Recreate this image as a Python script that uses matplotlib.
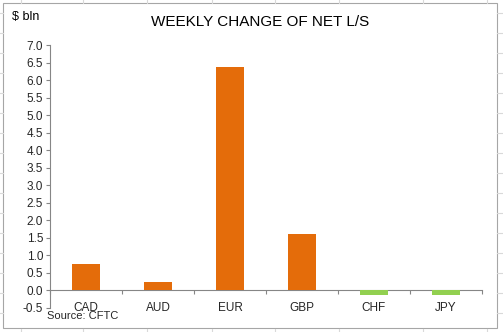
import matplotlib
matplotlib.use("Agg")
import matplotlib.pyplot as plt
from matplotlib.patches import Rectangle
from matplotlib.lines import Line2D

categories = ["CAD", "AUD", "EUR", "GBP", "CHF", "JPY"]
values = [0.75, 0.23, 6.37, 1.60, -0.14, -0.14]
yticks = [-0.5, 0.0, 0.5, 1.0, 1.5, 2.0, 2.5, 3.0, 3.5, 4.0, 4.5, 5.0, 5.5, 6.0, 6.5, 7.0]
title = "WEEKLY CHANGE OF NET L/S"
unit_label = "$ bln"
source = "Source: CFTC"

ORANGE = "#E46C0A"
GREEN = "#92D050"
AXIS = "#868686"

plt.rcParams['font.family'] = ['Liberation Sans', 'DejaVu Sans']

W, H = 503, 332
fig = plt.figure(figsize=(W / 100, H / 100), dpi=100)
fig.patch.set_facecolor("white")

# spreadsheet background gridlines (decorative)
for x in [21, 83, 147, 212, 275, 339, 423, 487]:
    fig.add_artist(Line2D([x / W, x / W], [0, 3 / H], color="#D9D9D9", lw=0.8))
    fig.add_artist(Line2D([x / W, x / W], [1 - 3 / H, 1], color="#D9D9D9", lw=0.8))
for y in range(13, 332, 20):
    fig.add_artist(Line2D([0, 3 / W], [1 - y / H, 1 - y / H], color="#D9D9D9", lw=0.8))
    fig.add_artist(Line2D([1 - 6 / W, 1], [1 - y / H, 1 - y / H], color="#D9D9D9", lw=0.8))

# chart border
fig.add_artist(Rectangle((3 / W, 1 - 328 / H), 494 / W, 325 / H, transform=fig.transFigure,
                         fill=True, facecolor="white", edgecolor="#A6A6A6", lw=0.8, zorder=0))

ax = fig.add_axes([50 / W, 1 - 308 / H, 432 / W, 263 / H])
ax.set_facecolor("none")

n = len(categories)
xs = [i + 0.5 for i in range(n)]
colors = [ORANGE if v >= 0 else GREEN for v in values]
ax.bar(xs, values, width=0.4, color=colors, zorder=3)

ax.set_xlim(0, n)
ax.set_ylim(-0.5, 7.0)
ax.set_yticks(yticks)
ax.set_yticklabels([f"{t:.1f}" for t in yticks], fontsize=8.5, color="#262626")
ax.tick_params(axis="y", direction="out", length=3, width=0.8, color=AXIS, pad=2)

for s in ["top", "right"]:
    ax.spines[s].set_visible(False)
ax.spines["left"].set_color(AXIS)
ax.spines["left"].set_linewidth(0.8)
ax.spines["bottom"].set_position(("data", 0))
ax.spines["bottom"].set_color(AXIS)
ax.spines["bottom"].set_linewidth(0.8)

ax.set_xticks(list(range(n + 1)))
ax.set_xticklabels([])
ax.tick_params(axis="x", direction="out", length=3, width=0.8, color=AXIS)

for x, c in zip(xs, categories):
    ax.text(x, -0.5, c, ha="center", va="center", fontsize=8.5, color="#262626")

fig.text(260 / W, 1 - 22 / H, title, ha="center", va="center", fontsize=11, color="#000000")
fig.text(12 / W, 1 - 17 / H, unit_label, ha="left", va="center", fontsize=9, color="#000000")
fig.text(47 / W, 1 - 316 / H, source, ha="left", va="center", fontsize=8, color="#262626")

fig.savefig("out.png", dpi=100)
